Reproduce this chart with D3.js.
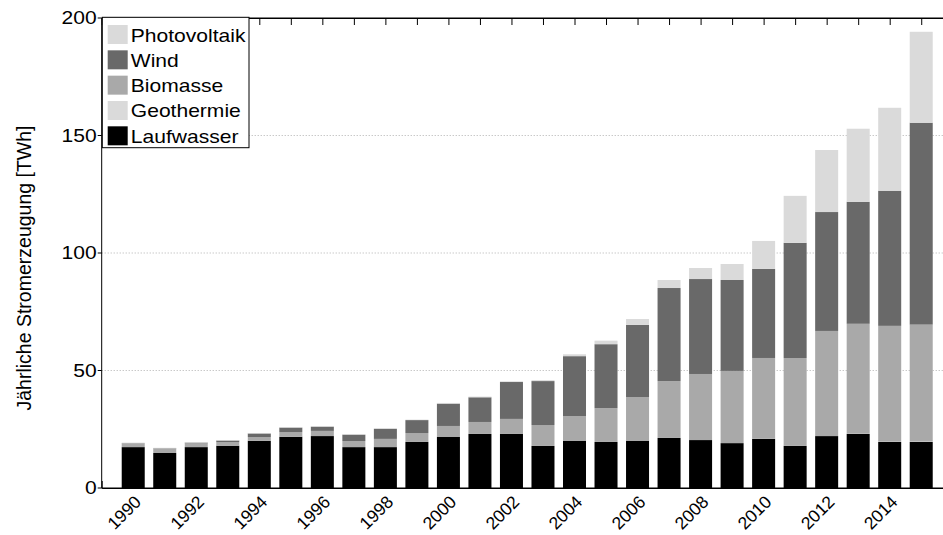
<!DOCTYPE html>
<html>
<head>
<meta charset="utf-8">
<script src="https://cdn.jsdelivr.net/npm/d3@7"></script>
<style>
  body { margin: 0; background: #fff; }
  text { font-family: "Liberation Sans", Arial, Helvetica, sans-serif; fill: #000; }
</style>
</head>
<body>
<div class="chart"></div>
<script>
// Jährliche Stromerzeugung aus erneuerbaren Energien [TWh]
const years = [1990, 1991, 1992, 1993, 1994, 1995, 1996, 1997, 1998, 1999, 2000, 2001, 2002,
  2003, 2004, 2005, 2006, 2007, 2008, 2009, 2010, 2011, 2012, 2013, 2014, 2015];
const laufwasser = [17.4, 14.9, 17.4, 18.0, 20.1, 21.8, 22.1, 17.4, 17.4, 19.6, 21.7, 23.0, 23.0,
  17.9, 20.0, 19.6, 20.0, 21.3, 20.4, 19.1, 20.9, 17.9, 22.1, 23.0, 19.6, 19.6];
const geothermie = [0, 0, 0, 0, 0, 0, 0, 0, 0, 0, 0, 0, 0,
  0, 0, 0, 0, 0, 0.02, 0.02, 0.03, 0.02, 0.03, 0.08, 0.1, 0.13];
const biomasse = [1.6, 1.8, 1.6, 1.5, 1.6, 2.0, 2.2, 2.6, 3.5, 3.8, 4.7, 5.1, 6.4,
  8.9, 10.6, 14.4, 18.7, 24.2, 28.1, 30.7, 34.4, 37.4, 44.7, 46.8, 49.3, 49.8];
const wind = [0.1, 0.2, 0.3, 0.7, 1.5, 1.9, 1.8, 2.7, 4.3, 5.5, 9.5, 10.5, 15.7,
  18.7, 25.5, 27.2, 30.7, 39.6, 40.4, 38.7, 37.9, 49.0, 50.6, 51.9, 57.5, 85.9];
const photovoltaik = [0.2, 0.2, 0.2, 0.2, 0.2, 0.2, 0.2, 0.2, 0.2, 0.2, 0.3, 0.3, 0.3,
  0.4, 0.8, 1.5, 2.5, 3.4, 4.7, 6.8, 11.9, 20.0, 26.4, 31.1, 35.3, 38.7];

const labelYears = [1990, 1992, 1994, 1996, 1998, 2000, 2002, 2004, 2006, 2008, 2010, 2012, 2014];
const yTicks = [0, 50, 100, 150, 200];
const gridTicks = [50, 100, 150];

// stacking order bottom -> top, legend shows it reversed
const keys = ['Laufwasser', 'Geothermie', 'Biomasse', 'Wind', 'Photovoltaik'];
const colors = {
  Laufwasser: '#000000',
  Geothermie: '#dadada',
  Biomasse: '#a9a9a9',
  Wind: '#696969',
  Photovoltaik: '#dadada',
};

const table = years.map((yr, i) => ({
  year: yr,
  Laufwasser: laufwasser[i],
  Geothermie: geothermie[i],
  Biomasse: biomasse[i],
  Wind: wind[i],
  Photovoltaik: photovoltaik[i],
}));

const margin = { top: 18, left: 101.7 };
const width = 27 * 31.52; // right border falls outside the picture
const height = 470;
const sx = 1.17; // horizontal text of the original is a bit wide
const fontSize = '18px';

const svg = d3.select('.chart')
  .append('svg')
  .attr('width', 943)
  .attr('height', 535)
  .append('g')
  .attr('transform', `translate(${margin.left},${margin.top})`);

const x = d3.scaleLinear()
  .domain([1989, 2016])
  .range([0, width]);
const y = d3.scaleLinear()
  .domain([0, 200])
  .range([height, 0]);
const barW = x(1989.73) - x(1989);

// dotted grid
svg.selectAll('.grid')
  .data(gridTicks)
  .enter()
  .append('line')
  .attr('x1', 0)
  .attr('x2', width)
  .attr('y1', (d) => y(d))
  .attr('y2', (d) => y(d))
  .attr('stroke', '#b0b0b0')
  .attr('stroke-width', 1)
  .attr('stroke-dasharray', '1,2');

// ticks on top and bottom, pointing inwards
svg.append('g')
  .attr('transform', `translate(0,${height})`)
  .call(d3.axisBottom(x).tickValues(years).tickSize(-7).tickFormat(''))
  .call((g) => g.selectAll('line').attr('stroke', '#000'));
svg.append('g')
  .call(d3.axisTop(x).tickValues(years).tickSize(-7).tickFormat(''))
  .call((g) => g.selectAll('line').attr('stroke', '#000'));

// stacked bars
const series = d3.stack().keys(keys)(table);
svg.selectAll('.layer')
  .data(series)
  .enter()
  .append('g')
  .attr('fill', (d) => colors[d.key])
  .selectAll('rect')
  .data((d) => d)
  .enter()
  .append('rect')
  .attr('x', (d) => x(d.data.year) - barW / 2)
  .attr('width', barW)
  .attr('y', (d) => y(d[1]))
  .attr('height', (d) => y(d[0]) - y(d[1]));

// axis lines
svg.append('line')
  .attr('x1', 0).attr('x2', width)
  .attr('y1', height).attr('y2', height)
  .attr('stroke', '#000');
svg.append('line')
  .attr('x1', 0).attr('x2', width)
  .attr('y1', 0).attr('y2', 0)
  .attr('stroke', '#000');
svg.append('line')
  .attr('x1', 0).attr('x2', 0)
  .attr('y1', 0).attr('y2', height)
  .attr('stroke', '#000');

// y ticks + labels
svg.selectAll('.ytick')
  .data(yTicks)
  .enter()
  .append('line')
  .attr('x1', -4)
  .attr('x2', 0)
  .attr('y1', (d) => y(d))
  .attr('y2', (d) => y(d))
  .attr('stroke', '#000');
svg.selectAll('.ylabel')
  .data(yTicks)
  .enter()
  .append('text')
  .attr('transform', (d) => `translate(-5,${y(d)}) scale(${sx},1)`)
  .attr('dy', '0.36em')
  .attr('text-anchor', 'end')
  .style('font-size', fontSize)
  .text((d) => d);

// x labels, rotated 45°
svg.selectAll('.xlabel')
  .data(labelYears)
  .enter()
  .append('text')
  .attr('transform', (d) => `translate(${x(d) + 9},${height + 15}) rotate(-45)`)
  .attr('text-anchor', 'end')
  .style('font-size', '17.5px')
  .text((d) => d);

// y title
svg.append('text')
  .attr('transform', `translate(${31 - margin.left},${268 - margin.top}) rotate(-90)`)
  .attr('text-anchor', 'middle')
  .style('font-size', '19.5px')
  .text('Jährliche Stromerzeugung [TWh]');

// legend
const legend = svg.append('g')
  .attr('transform', `translate(${102.3 - margin.left},${17.3 - margin.top})`);
legend.append('rect')
  .attr('width', 146.7)
  .attr('height', 130.4)
  .attr('fill', '#fff')
  .attr('stroke', '#000');
const items = legend.selectAll('.item')
  .data(keys.slice().reverse())
  .enter()
  .append('g')
  .attr('transform', (d, i) => `translate(0,${7.7 + i * 25.33})`);
items.append('rect')
  .attr('x', 5.4)
  .attr('width', 20)
  .attr('height', 19)
  .attr('fill', (d) => colors[d]);
items.append('text')
  .attr('transform', `translate(28.5,16.5) scale(${sx},1)`)
  .style('font-size', fontSize)
  .text((d) => d);
</script>
</body>
</html>
